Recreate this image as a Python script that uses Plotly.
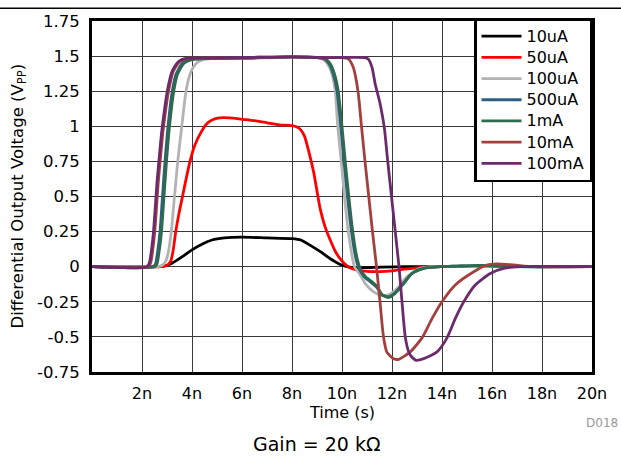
import plotly.graph_objects as go

# ---- data (time in ns, differential output in V_PP) ----
series_names = ["10uA", "50uA", "100uA", "500uA", "1mA", "10mA", "100mA"]
series_colors = ["#000000", "#ff0000", "#b3b3b3", "#2e5f80", "#2e6b4c", "#a3403e", "#6b2a6b"]

t_10uA = [0, 2.6, 2.9, 3.2, 3.6, 4.0, 4.4, 4.8, 5.3, 6.0, 7.0, 8.0, 8.35, 8.75, 9.15, 9.55, 9.93, 10.35, 10.8, 11.5, 12.5, 20]
v_10uA = [0, 0, 0.005, 0.025, 0.07, 0.12, 0.16, 0.19, 0.205, 0.21, 0.205, 0.2, 0.19, 0.15, 0.105, 0.055, 0.016, -0.004, -0.008, -0.004, 0, 0]

t_50uA = [0, 2.75, 3.0, 3.15, 3.25, 3.35, 3.48, 3.62, 3.77, 3.92, 4.1, 4.37, 4.6, 4.8, 5.1, 5.5, 6.0, 6.5, 7.0, 7.5, 8.0, 8.2, 8.35, 8.5, 8.7, 8.87, 9.13, 9.33, 9.53, 9.73, 9.93, 10.2, 10.5, 11.0, 11.5, 12.0, 12.5, 13.2, 14, 20]
v_50uA = [0, 0, 0.01, 0.04, 0.12, 0.25, 0.38, 0.5, 0.63, 0.75, 0.86, 0.96, 1.02, 1.045, 1.06, 1.06, 1.05, 1.04, 1.025, 1.01, 1.005, 0.995, 0.975, 0.93, 0.80, 0.67, 0.41, 0.28, 0.19, 0.11, 0.055, 0.005, -0.02, -0.033, -0.035, -0.03, -0.018, -0.005, 0, 0]

t_100uA = [0, 2.6, 2.8, 2.95, 3.05, 3.17, 3.3, 3.43, 3.59, 3.76, 3.9, 4.05, 4.25, 4.45, 4.8, 5.5, 7.0, 8.0, 9.0, 9.3, 9.5, 9.63, 9.73, 9.83, 9.97, 10.1, 10.25, 10.5, 10.7, 10.93, 11.27, 11.6, 11.87, 12.2, 12.6, 13.13, 13.67, 20]
v_100uA = [0, 0, 0.01, 0.04, 0.1, 0.25, 0.5, 0.75, 1.0, 1.25, 1.36, 1.42, 1.46, 1.475, 1.483, 1.485, 1.487, 1.492, 1.49, 1.47, 1.42, 1.35, 1.25, 1.0, 0.75, 0.5, 0.25, 0.0, -0.05, -0.12, -0.18, -0.207, -0.20, -0.155, -0.07, -0.012, 0, 0]

t_500uA = [0, 2.44, 2.54, 2.62, 2.72, 2.82, 2.92, 3.04, 3.21, 3.36, 3.62, 3.95, 4.5, 6, 8, 9, 9.3, 9.5, 9.67, 9.8, 9.95, 10.08, 10.22, 10.38, 10.53, 10.65, 10.88, 11.15, 11.38, 11.6, 11.85, 12.1, 12.45, 12.8, 13.27, 13.93, 14.6, 15.3, 15.9, 16.9, 20]
v_500uA = [0, 0, 0.02, 0.1, 0.25, 0.5, 0.75, 1.0, 1.25, 1.37, 1.45, 1.475, 1.482, 1.486, 1.494, 1.49, 1.48, 1.44, 1.36, 1.25, 1.0, 0.75, 0.5, 0.25, 0.08, 0.0, -0.07, -0.11, -0.145, -0.2, -0.215, -0.19, -0.12, -0.048, -0.012, 0, 0.004, 0.008, 0.008, 0, 0]

t_1mA = [0, 2.5, 2.6, 2.68, 2.78, 2.88, 2.98, 3.1, 3.27, 3.42, 3.68, 4.0, 4.5, 6, 8, 9, 9.35, 9.55, 9.72, 9.85, 10.0, 10.13, 10.27, 10.43, 10.58, 10.7, 10.93, 11.2, 11.4, 11.6, 11.87, 12.13, 12.47, 12.8, 13.27, 13.93, 14.6, 15.3, 15.9, 16.9, 20]
v_1mA = [0, 0, 0.02, 0.1, 0.25, 0.5, 0.75, 1.0, 1.25, 1.37, 1.45, 1.475, 1.482, 1.486, 1.494, 1.49, 1.48, 1.44, 1.36, 1.25, 1.0, 0.75, 0.5, 0.25, 0.08, 0.0, -0.07, -0.107, -0.14, -0.198, -0.219, -0.19, -0.12, -0.048, -0.012, 0, 0.004, 0.008, 0.008, 0, 0]

t_10mA = [0, 2.25, 2.35, 2.43, 2.51, 2.58, 2.65, 2.74, 2.83, 2.95, 3.06, 3.25, 3.5, 3.85, 4.5, 6, 8, 9, 10.0, 10.25, 10.45, 10.64, 10.78, 10.92, 11.07, 11.22, 11.38, 11.52, 11.66, 11.8, 12.07, 12.27, 12.73, 13.2, 13.6, 14.0, 14.53, 15.27, 15.8, 16.2, 16.87, 17.67, 20]
v_10mA = [0, 0, 0.03, 0.12, 0.25, 0.42, 0.6, 0.78, 0.95, 1.12, 1.25, 1.39, 1.46, 1.485, 1.488, 1.49, 1.495, 1.49, 1.49, 1.48, 1.42, 1.25, 1.0, 0.75, 0.5, 0.25, 0.0, -0.25, -0.5, -0.61, -0.655, -0.66, -0.607, -0.507, -0.37, -0.25, -0.13, -0.036, 0.012, 0.02, 0.012, 0, 0]

t_100mA = [0, 2.2, 2.3, 2.38, 2.46, 2.53, 2.6, 2.69, 2.78, 2.9, 3.01, 3.2, 3.45, 3.8, 4.5, 6, 8, 9, 10, 10.9, 11.05, 11.2, 11.33, 11.5, 11.62, 11.7, 11.83, 11.98, 12.13, 12.28, 12.4, 12.53, 12.67, 12.8, 12.97, 13.27, 13.8, 14.2, 14.53, 14.87, 15.33, 15.93, 16.47, 17.13, 20]
v_100mA = [0, 0, 0.03, 0.12, 0.25, 0.42, 0.6, 0.78, 0.95, 1.12, 1.25, 1.39, 1.46, 1.485, 1.488, 1.49, 1.495, 1.49, 1.49, 1.49, 1.48, 1.42, 1.3, 1.18, 1.07, 0.98, 0.75, 0.5, 0.25, 0.0, -0.25, -0.5, -0.607, -0.645, -0.667, -0.655, -0.607, -0.507, -0.37, -0.25, -0.13, -0.048, -0.012, 0, 0]

x_tickvals = [2, 4, 6, 8, 10, 12, 14, 16, 18, 20]
x_ticktext = ["2n", "4n", "6n", "8n", "10n", "12n", "14n", "16n", "18n", "20n"]
y_tickvals = [1.75, 1.5, 1.25, 1, 0.75, 0.5, 0.25, 0, -0.25, -0.5, -0.75]
y_ticktext = ["1.75", "1.5", "1.25", "1", "0.75", "0.5", "0.25", "0", "-0.25", "-0.5", "-0.75"]

all_t = [t_10uA, t_50uA, t_100uA, t_500uA, t_1mA, t_10mA, t_100mA]
all_v = [v_10uA, v_50uA, v_100uA, v_500uA, v_1mA, v_10mA, v_100mA]

FONT = "DejaVu Sans, Arial, sans-serif"

fig = go.Figure()
for name, color, tt, vv in zip(series_names, series_colors, all_t, all_v):
    fig.add_trace(go.Scatter(
        x=tt, y=vv, mode="lines",
        name='<span style="font-size:16px">' + name + '</span>',
        line=dict(color=color, width=2.8, shape="spline", smoothing=0.6),
    ))

fig.update_layout(
    width=621, height=457,
    margin=dict(l=92, r=29, t=16, b=85),
    paper_bgcolor="white", plot_bgcolor="white",
    font=dict(family=FONT, size=16, color="black"),
    showlegend=True,
    legend=dict(
        x=1, xanchor="right", y=1.0084, yanchor="top",
        bgcolor="white", bordercolor="black", borderwidth=2.5,
        font=dict(family=FONT, size=14, color="black"),
        tracegroupgap=0, itemwidth=40,
        entrywidth=75, entrywidthmode="pixels",
    ),
    xaxis=dict(
        range=[0, 20], tickvals=x_tickvals, ticktext=x_ticktext,
        showgrid=True, gridcolor="#3a3a3a", gridwidth=1,
        showline=True, linecolor="black", linewidth=3, mirror=True,
        zeroline=False, ticks="", tickfont=dict(size=16), ticklabelstandoff=5,
    ),
    yaxis=dict(
        range=[-0.75, 1.75], tickvals=y_tickvals, ticktext=y_ticktext,
        showgrid=True, gridcolor="#3a3a3a", gridwidth=1,
        showline=True, linecolor="black", linewidth=3, mirror=True,
        zeroline=False, ticks="", tickfont=dict(size=16.5), ticklabelstandoff=6,
    ),
    shapes=[dict(type="line", xref="paper", yref="paper",
                 x0=-0.184, x1=1.058, y0=1.0365, y1=1.0365,
                 line=dict(color="black", width=1.5))],
    annotations=[
        dict(text="Differential Output Voltage (V<sub>PP</sub>)", xref="paper", yref="paper",
             x=-0.148, y=0.5, textangle=-90, showarrow=False,
             xanchor="center", yanchor="middle", font=dict(size=16.5)),
        dict(text="Time (s)", xref="paper", yref="paper", x=0.5, y=-0.1165,
             showarrow=False, xanchor="center", yanchor="middle", font=dict(size=16)),
        dict(text="D018", xref="paper", yref="paper", x=1.056, y=-0.146,
             showarrow=False, xanchor="right", yanchor="middle",
             font=dict(size=12, color="#999999")),
        dict(text="Gain = 20 kΩ", xref="paper", yref="paper", x=0.448, y=-0.205,
             showarrow=False, xanchor="center", yanchor="middle", font=dict(size=19)),
    ],
)

fig.write_html("out.html")
